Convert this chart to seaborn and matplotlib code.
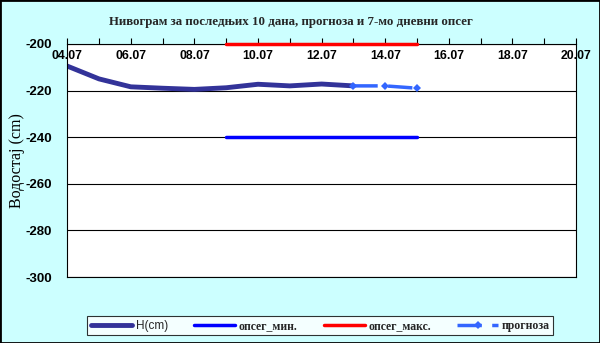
import pandas as pd
import matplotlib
matplotlib.use('Agg')
import matplotlib.pyplot as plt
import matplotlib.dates as mdates
import seaborn as sns

# подаци
h_dates = ['2024-07-04', '2024-07-05', '2024-07-06', '2024-07-07', '2024-07-08',
           '2024-07-09', '2024-07-10', '2024-07-11', '2024-07-12', '2024-07-13']
h_values = [-209.5, -215.0, -218.4, -219.0, -219.5, -218.8, -217.3, -218.0, -217.2, -218.0]

prog_dates = ['2024-07-13', '2024-07-14', '2024-07-15']
prog_values = [-218.0, -218.0, -219.0]

range_dates = ['2024-07-09', '2024-07-15']
range_min = [-240, -240]
range_max = [-200, -200]

y_ticks = [-200, -220, -240, -260, -280, -300]

sns.set_theme(style='white')
plt.rcParams['font.family'] = ['Liberation Sans', 'DejaVu Sans']
plt.rcParams['axes.unicode_minus'] = False

df_h = pd.DataFrame({'datum': pd.to_datetime(h_dates), 'v': h_values})
df_p = pd.DataFrame({'datum': pd.to_datetime(prog_dates), 'v': prog_values})
df_r = pd.DataFrame({'datum': pd.to_datetime(range_dates), 'min': range_min, 'max': range_max})

fig = plt.figure(figsize=(6, 3.43), dpi=100, facecolor='#CCFFFF')
ax = fig.add_axes([0.112, 0.192, 0.848, 0.68])
ax.set_facecolor('white')

sns.lineplot(data=df_h, x='datum', y='v', ax=ax, color='#333399', linewidth=3.5,
             solid_capstyle='round', solid_joinstyle='round', label='H(cm)')
sns.lineplot(data=df_r, x='datum', y='min', ax=ax, color='#0000FF', linewidth=2.5,
             label='опсег_мин.')
sns.lineplot(data=df_r, x='datum', y='max', ax=ax, color='#FF0000', linewidth=2.5,
             label='опсег_макс.', clip_on=False, zorder=5)
sns.lineplot(data=df_p, x='datum', y='v', ax=ax, color='#3366FF', linewidth=2.5,
             marker='D', markersize=4, markeredgewidth=0, dashes=False,
             linestyle=(0, (7, 3)), label='прогноза')

ax.set_xlim(pd.Timestamp('2024-07-04'), pd.Timestamp('2024-07-20'))
ax.set_ylim(-300, -200)
ax.set_yticks(y_ticks)
ax.yaxis.grid(True, color='black', linewidth=0.8)
ax.xaxis.set_major_locator(mdates.DayLocator(interval=2))
ax.xaxis.set_minor_locator(mdates.DayLocator())
ax.xaxis.set_major_formatter(mdates.DateFormatter('%d.%m'))

ax.tick_params(axis='x', which='both', top=True, bottom=False, labeltop=True,
               labelbottom=False, direction='out', length=4, width=0.8, color='black')
ax.tick_params(axis='x', which='major', pad=-17, labelsize=8.8)
ax.tick_params(axis='y', direction='out', length=5, width=0.8, color='black',
               labelsize=9.5, pad=6)
for lbl in ax.get_xticklabels() + ax.get_yticklabels():
    lbl.set_fontweight('bold')
    lbl.set_color('black')

for s in ax.spines.values():
    s.set_color('black')
    s.set_linewidth(0.8)

ax.set_xlabel('')
ax.set_ylabel('Водостај (cm)', family=['Liberation Serif', 'DejaVu Serif'],
              fontsize=11.5, color='black')
ax.yaxis.set_label_coords(-0.082, 0.5)

fig.text(0.485, 0.935, 'Нивограм за последњих 10 дана, прогноза и 7-мо дневни опсег',
         ha='center', va='center', fontsize=9.3, fontweight='bold',
         family=['Liberation Serif', 'DejaVu Serif'])

leg = ax.legend(loc='center', bbox_to_anchor=(0.534, 0.05), bbox_transform=fig.transFigure,
                ncol=4, frameon=True, fancybox=False, edgecolor='black', fontsize=8.5,
                handlelength=3.5, columnspacing=2.2, borderpad=0.3, handletextpad=0.3)
leg.get_frame().set_linewidth(0.8)
leg.get_frame().set_facecolor('white')
for i, t in enumerate(leg.get_texts()):
    if i > 0:
        t.set_family(['Liberation Serif', 'DejaVu Serif'])
        t.set_fontweight('bold')

fig.patches.append(plt.Rectangle((0, 0), 1, 1, transform=fig.transFigure, fill=False,
                                 edgecolor='black', linewidth=2))

fig.savefig('out.png', dpi=100, facecolor=fig.get_facecolor())
